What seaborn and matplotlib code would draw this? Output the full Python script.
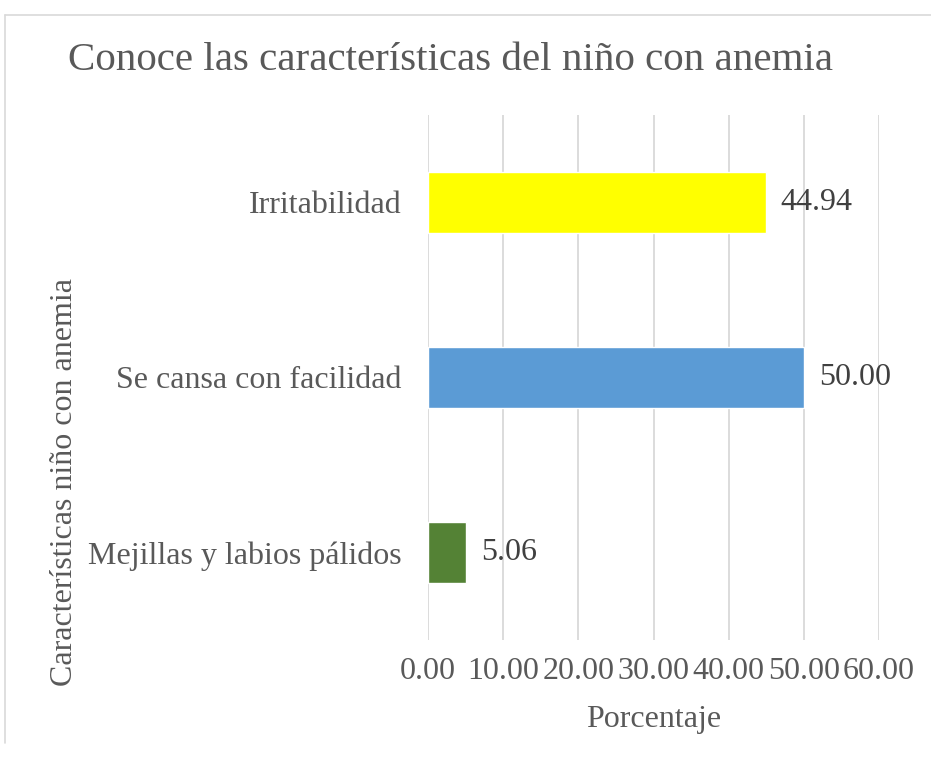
import matplotlib
matplotlib.use("Agg")
import matplotlib.pyplot as plt
import seaborn as sns
import pandas as pd
from matplotlib.ticker import FormatStrFormatter

# Data
categories = ["Irritabilidad", "Se cansa con facilidad", "Mejillas y labios pálidos"]
values = [44.94, 50.00, 5.06]
colors = ["#FFFF00", "#5B9BD5", "#548235"]
xticks = [0, 10, 20, 30, 40, 50, 60]

sns.set_style("white")
plt.rcParams['font.family'] = ['Liberation Serif', 'DejaVu Serif']
text_color = "#595959"
fs = 23

df = pd.DataFrame({"cat": categories, "val": values})

fig = plt.figure(figsize=(9.31, 7.58), dpi=100)
ax = fig.add_axes([0.4597, 0.1557, 0.4845, 0.6926])

sns.barplot(data=df, y="cat", x="val", hue="cat", palette=colors,
            orient="h", width=0.35, saturation=1, legend=False, ax=ax, zorder=3)

ax.set_xlim(0, 60)
ax.set_xticks(xticks)
ax.xaxis.set_major_formatter(FormatStrFormatter('%.2f'))
ax.grid(axis='x', color="#D9D9D9", linewidth=1.3, zorder=0)
ax.set_axisbelow(True)
for s in ax.spines.values():
    s.set_visible(False)
ax.tick_params(axis='both', length=0, labelsize=fs, colors=text_color)
ax.tick_params(axis='y', pad=19)
ax.tick_params(axis='x', pad=12)
ax.set_xlabel("Porcentaje", fontsize=fs, color=text_color, labelpad=14)
ax.set_ylabel("")

# value labels
for i, v in enumerate(values):
    ax.text(v + 2.0, i, f"{v:.2f}", va='center', ha='left',
            fontsize=fs, color="#404040")

fig.text(450 / 931, 1 - 61 / 758, "Conoce las características del niño con anemia",
         ha='center', va='center', fontsize=29.5, color=text_color)
fig.text(65 / 931, 1 - 482 / 758, "Características niño con anemia",
         rotation=90, ha='center', va='center', fontsize=fs, color=text_color)

# chart border (Excel chart area)
fig.add_artist(plt.Line2D([5 / 931, 5 / 931], [1 - 15 / 758, 0.02],
                          color="#D9D9D9", linewidth=1.2))
fig.add_artist(plt.Line2D([5 / 931, 1.0], [1 - 15 / 758, 1 - 15 / 758],
                          color="#D9D9D9", linewidth=1.2))

fig.savefig("out.png", dpi=100)
